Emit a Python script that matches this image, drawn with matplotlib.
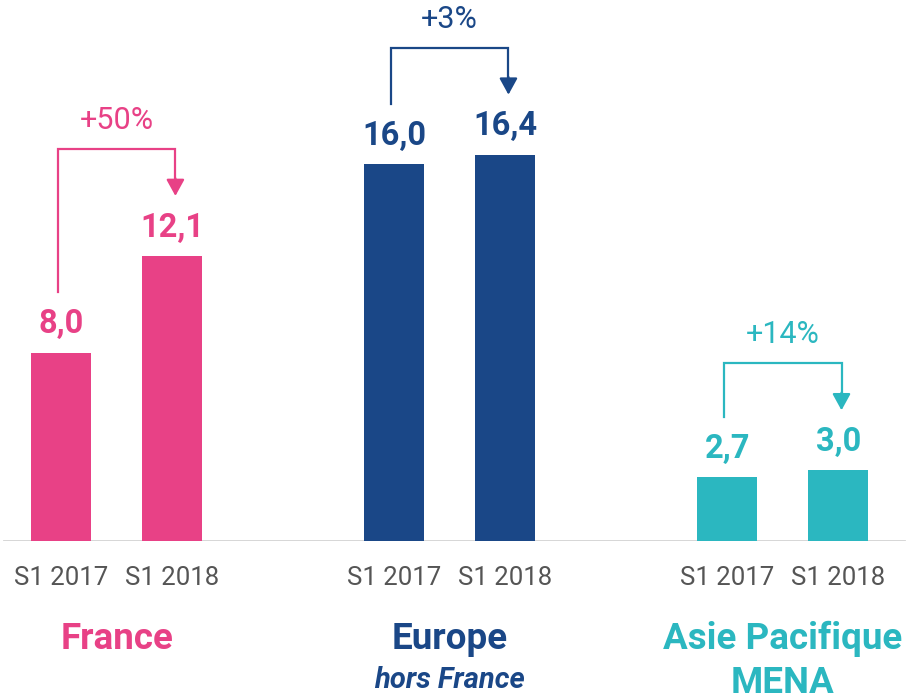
import numpy as np
import matplotlib as mpl
mpl.use('agg')
import matplotlib.pyplot as plt

plt.rcParams['font.family'] = ['Roboto', 'DejaVu Sans']

# data
regions = ['France', 'Europe', 'Asie Pacifique\nMENA']
subtitles = ['', 'hors France', '']
periods = ['S1 2017', 'S1 2018']
v2017 = [8.0, 16.0, 2.7]
v2018 = [12.1, 16.4, 3.0]
growth = ['+50%', '+3%', '+14%']
colors = ['#E84186', '#1A4787', '#2BB7C0']

fig = plt.figure(figsize=(9.07, 6.99), dpi=100)
ax = fig.add_axes([0, 158 / 699, 1, 541 / 699])
ax.set_xlim(-0.55, 7.62)
ax.set_ylim(0, 22.97)
for s in ax.spines.values():
    s.set_visible(False)
ax.set_yticks([])

ticks, labels = [], []
for i in range(3):
    x0 = i * 3
    x1 = i * 3 + 1
    c = colors[i]
    a, b = v2017[i], v2018[i]
    ax.bar([x0, x1], [a, b], width=0.54, color=c)
    for x, v in ((x0, a), (x1, b)):
        ax.annotate(f'{v:.1f}'.replace('.', ','), (x, v), xytext=(0, 14),
                    textcoords='offset points', ha='center', va='baseline',
                    fontsize=23.5, fontweight='bold', color=c)
    # bracket arrow
    top = b + 4.55
    ax.plot([x0 - 0.03, x0 - 0.03, x1 + 0.03, x1 + 0.03],
            [a + 2.57, top, top, b + 3.1], color=c, lw=1.6,
            solid_joinstyle='miter')
    ax.annotate('', xy=(x1 + 0.03, b + 2.55), xytext=(x1 + 0.03, b + 3.3),
                arrowprops=dict(arrowstyle='-|>,head_length=1.0,head_width=0.55',
                                color=c, lw=1.6, shrinkA=0, shrinkB=0))
    ax.text((x0 + x1) / 2, top + 0.85, growth[i], ha='center', va='baseline',
            fontsize=22, color=c)
    # group labels
    names = regions[i].split('\n')
    ax.text((x0 + x1) / 2, -4.6, names[0], ha='center', va='baseline',
            fontsize=26.5, fontweight='bold', color=c, clip_on=False)
    if len(names) > 1:
        ax.text((x0 + x1) / 2, -6.47, names[1], ha='center', va='baseline',
                fontsize=26.5, fontweight='bold', color=c, clip_on=False)
    if subtitles[i]:
        ax.text((x0 + x1) / 2, -6.25, subtitles[i], ha='center', va='baseline',
                fontsize=21, fontweight='bold', fontstyle='italic', color=c,
                clip_on=False)
    ticks += [x0, x1]
    labels += periods

ax.set_xticks(ticks)
ax.set_xticklabels(labels, fontsize=18.5, color='#555555')
ax.tick_params(axis='x', length=0, pad=18)
ax.axhline(0, xmin=0.004, xmax=0.997, color='#D3D3D3', lw=2, zorder=0)

fig.savefig('out.png', dpi=100)
